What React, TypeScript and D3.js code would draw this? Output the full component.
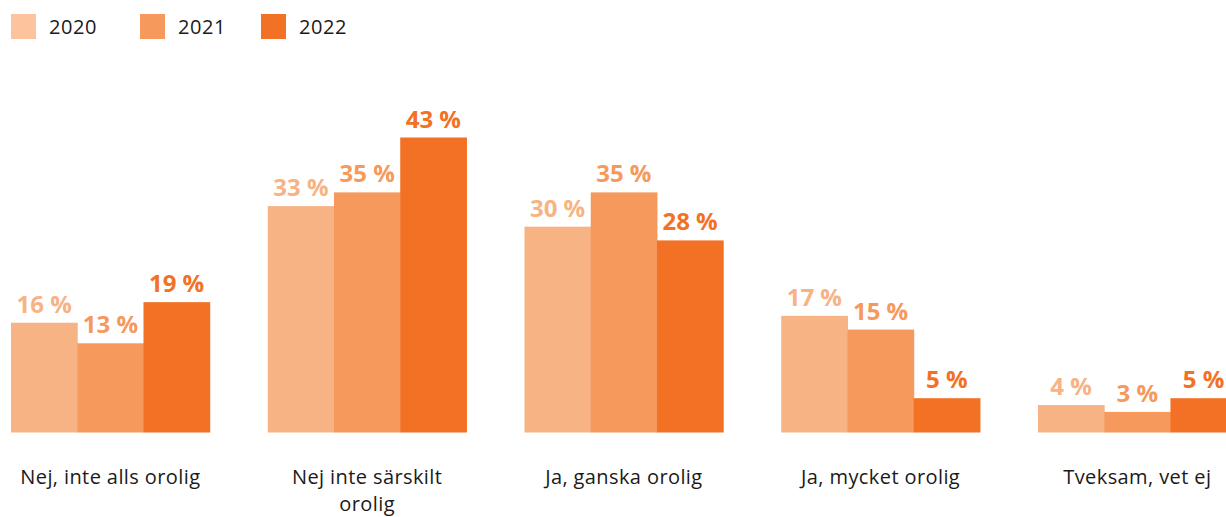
import React, { useEffect, useRef } from "react";
import * as d3 from "d3";

const categories = [
  "Nej, inte alls orolig",
  "Nej inte särskilt orolig",
  "Ja, ganska orolig",
  "Ja, mycket orolig",
  "Tveksam, vet ej",
];
const years = ["2020", "2021", "2022"];
const values2020 = [16, 33, 30, 17, 4];
const values2021 = [13, 35, 35, 15, 3];
const values2022 = [19, 43, 28, 5, 5];
const colors = ["#f8b384", "#f5995c", "#f37125"];
const legendColors = ["#fcc39c", "#f5995c", "#f37125"];

const FONT = "'Open Sans', sans-serif";

// wrap long category labels onto several lines
function wrap(sel: any, width: number) {
  sel.each(function (this: SVGTextElement) {
    const text = d3.select(this);
    const words = text.text().split(/\s+/);
    const x = text.attr("x");
    const y = text.attr("y");
    text.text(null);
    let line: string[] = [];
    let lineNo = 0;
    let tspan = text.append("tspan").attr("x", x).attr("y", y);
    words.forEach((w) => {
      line.push(w);
      tspan.text(line.join(" "));
      if ((tspan.node() as SVGTSpanElement).getComputedTextLength() > width && line.length > 1) {
        line.pop();
        tspan.text(line.join(" "));
        line = [w];
        lineNo++;
        tspan = text
          .append("tspan")
          .attr("x", x)
          .attr("y", +y + lineNo * 27)
          .text(w);
      }
    });
  });
}

const App = () => {
  const ref = useRef<HTMLDivElement>(null);

  useEffect(() => {
    const width = 1226;
    const height = 517;
    const baseline = 432.5;

    d3.select(ref.current).select("svg").remove();

    const svg = d3
      .select(ref.current)
      .append("svg")
      .attr("width", width)
      .attr("height", height)
      .style("display", "block")
      .style("font-family", FONT);

    const series = [values2020, values2021, values2022];

    const x0 = d3
      .scaleBand()
      .domain(categories)
      .range([11, 1236.7])
      .paddingInner(0.226)
      .paddingOuter(0);

    const x1 = d3.scaleBand().domain(years).range([0, x0.bandwidth()]);

    const y = d3.scaleLinear().domain([0, 43]).range([baseline, 137.5]);

    // legend
    const legend = svg.append("g");
    const legendX = [11, 140, 261];
    years.forEach((yr, i) => {
      legend
        .append("rect")
        .attr("x", legendX[i])
        .attr("y", 14)
        .attr("width", 25)
        .attr("height", 25)
        .attr("fill", legendColors[i]);
      legend
        .append("text")
        .attr("x", legendX[i] + 38)
        .attr("y", 34)
        .attr("font-size", 20)
        .attr("letter-spacing", 0.6)
        .attr("fill", "#1a1a1a")
        .text(yr);
    });

    // bars
    const groups = svg
      .selectAll(".grp")
      .data(categories)
      .enter()
      .append("g")
      .attr("class", "grp")
      .attr("transform", (d) => `translate(${x0(d)},0)`);

    years.forEach((yr, si) => {
      groups
        .append("rect")
        .attr("x", x1(yr)!)
        .attr("y", (_d, i) => y(series[si][i]))
        .attr("width", x1.bandwidth() + 0.5)
        .attr("height", (_d, i) => baseline - y(series[si][i]))
        .attr("fill", colors[si]);

      groups
        .append("text")
        .attr("x", x1(yr)! + x1.bandwidth() / 2)
        .attr("y", (_d, i) => y(series[si][i]) - 10)
        .attr("text-anchor", "middle")
        .attr("font-size", 24)
        .attr("font-weight", 700)
        .attr("fill", colors[si])
        .text((_d, i) => `${series[si][i]} %`);
    });

    // category labels
    svg
      .selectAll(".cat")
      .data(categories)
      .enter()
      .append("text")
      .attr("class", "cat")
      .attr("x", (d) => x0(d)! + x0.bandwidth() / 2)
      .attr("y", 484)
      .attr("text-anchor", "middle")
      .attr("font-size", 20)
      .attr("letter-spacing", 0.4)
      .attr("fill", "#1a1a1a")
      .text((d) => d)
      .call(wrap, 195);
  }, []);

  return <div ref={ref} style={{ position: "absolute", left: 0, top: 0 }}></div>;
};

export default App;
